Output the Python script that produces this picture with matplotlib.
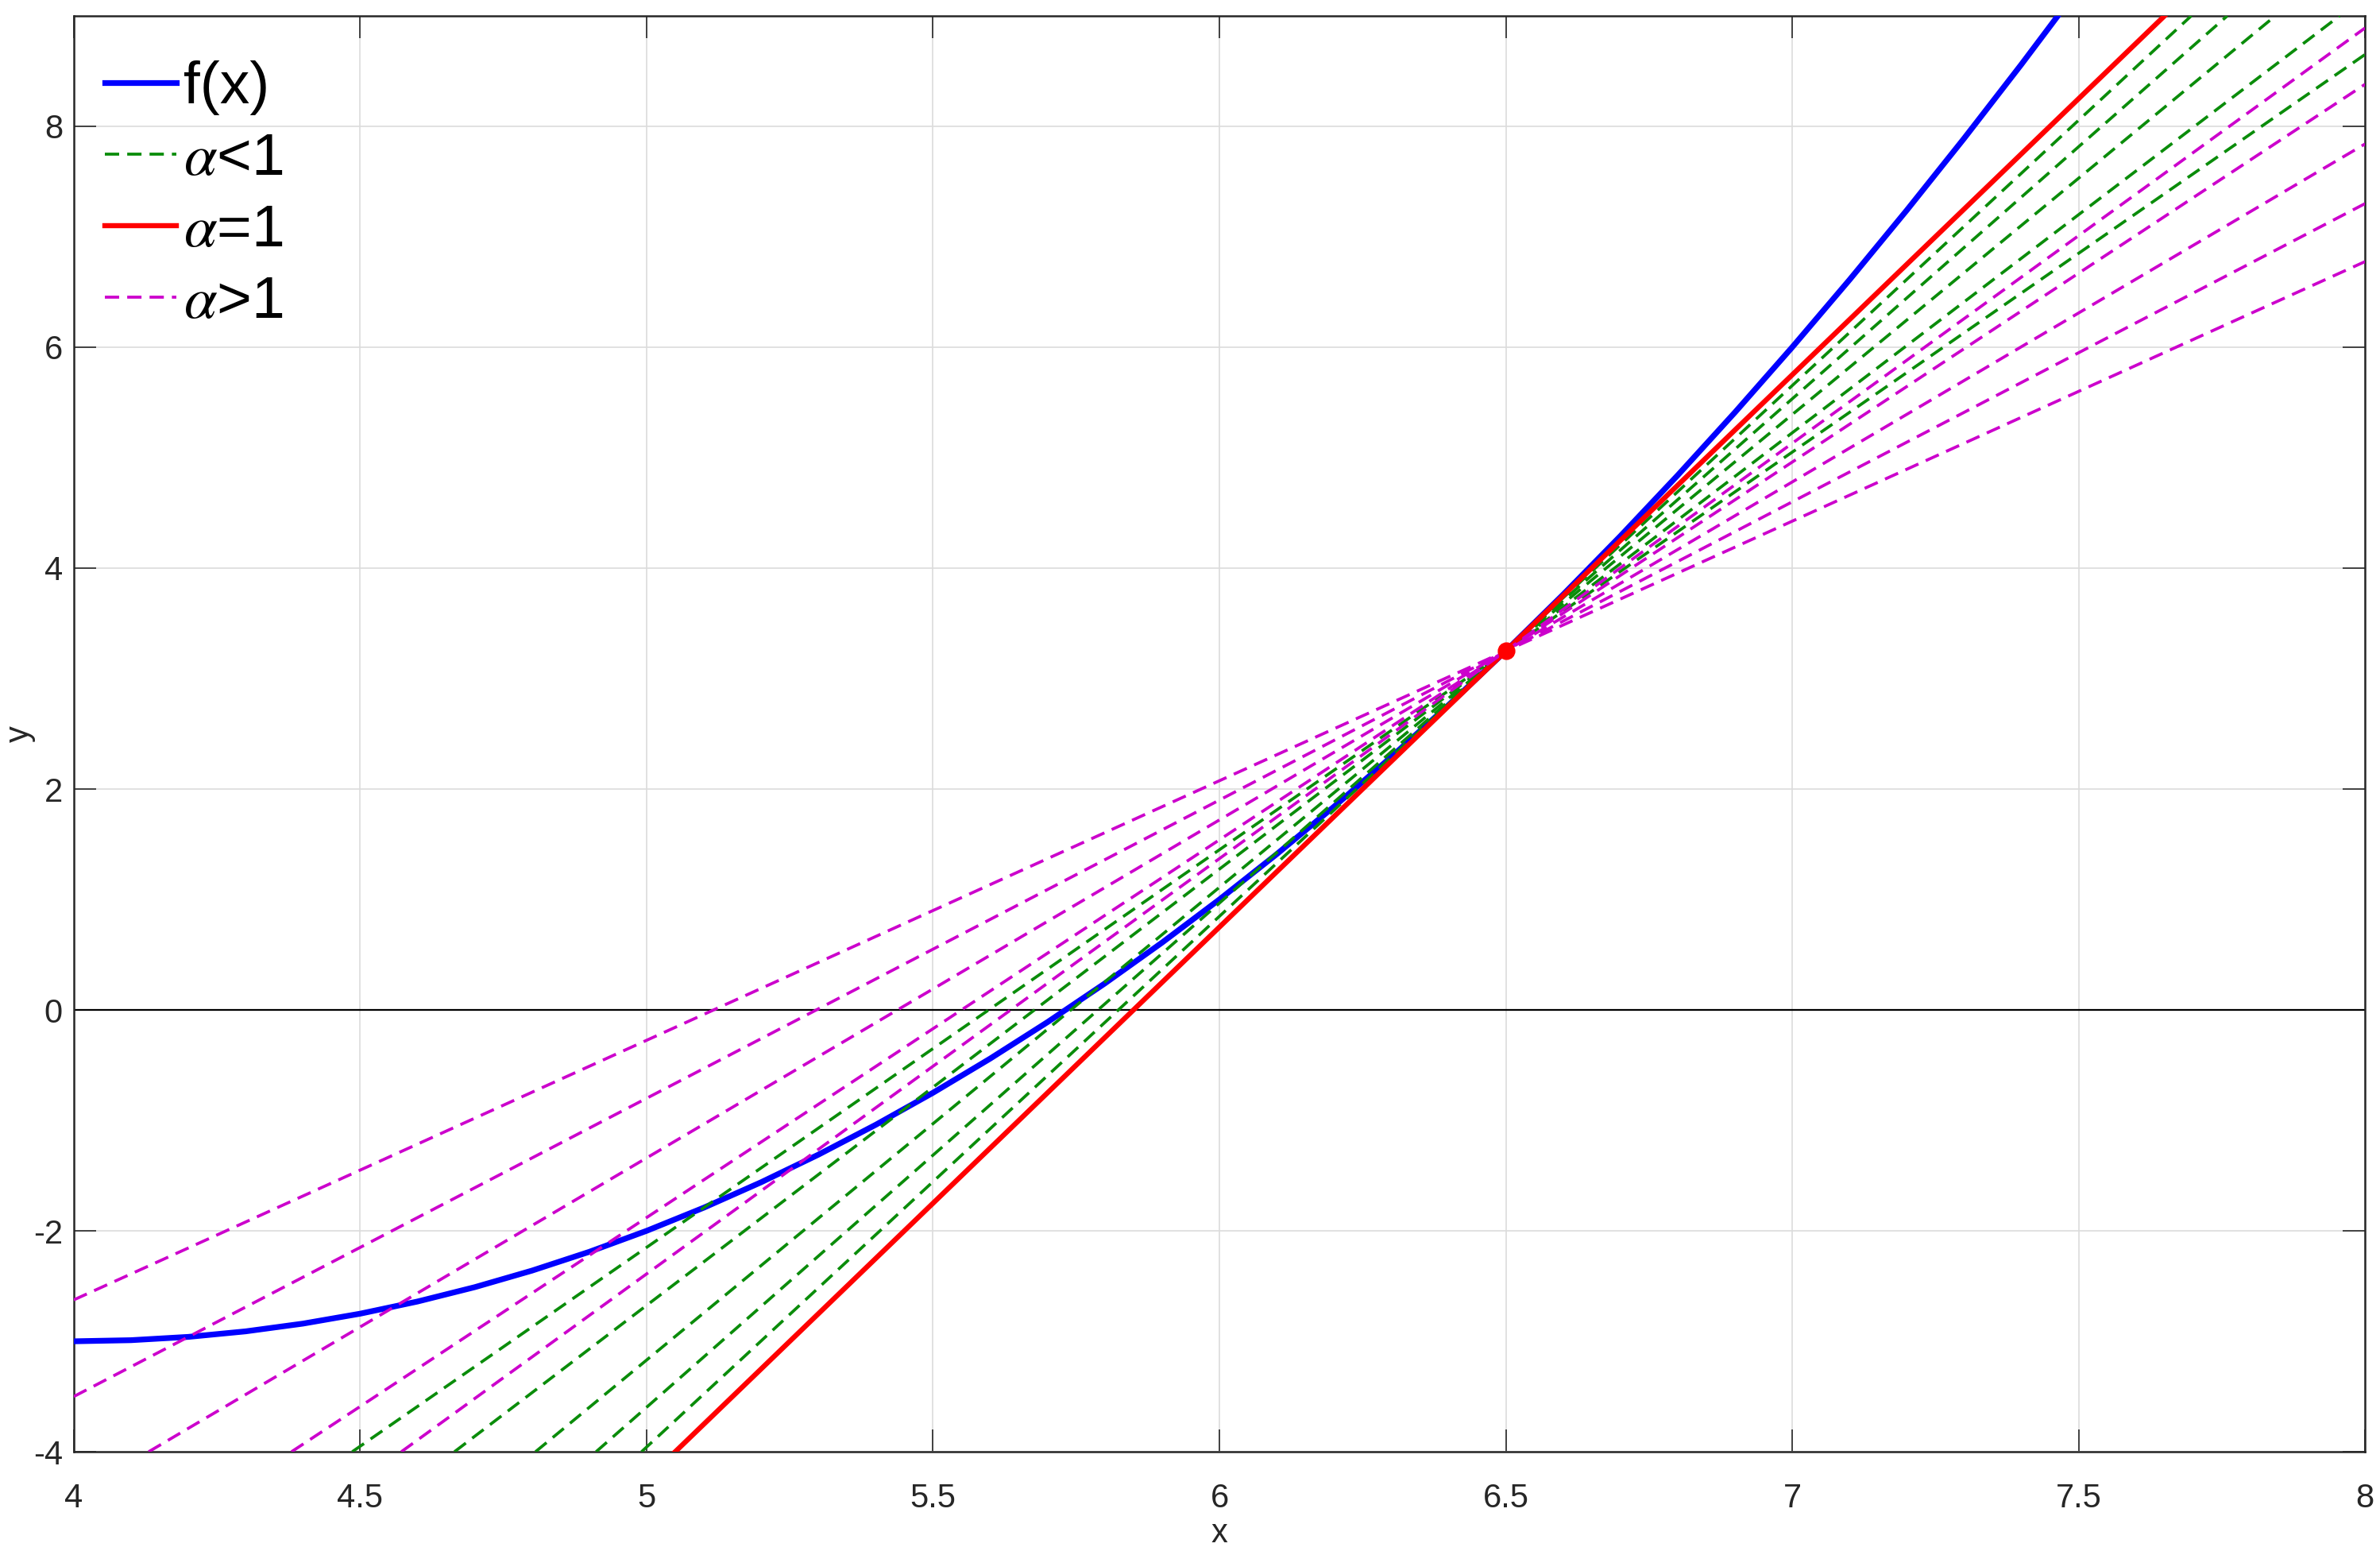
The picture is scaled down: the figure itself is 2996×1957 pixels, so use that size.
import numpy as np
import matplotlib.pyplot as plt

# f(x)
x_curve = [4.0, 4.1, 4.2, 4.3, 4.4, 4.5, 4.6, 4.7, 4.8, 4.9, 5.0, 5.1, 5.2, 5.3,
           5.4, 5.5, 5.6, 5.7, 5.8, 5.9, 6.0, 6.1, 6.2, 6.3, 6.4, 6.5, 6.6, 6.7,
           6.8, 6.9, 7.0, 7.1, 7.2, 7.3, 7.4, 7.5]
y_curve = [-3.0, -2.99, -2.96, -2.91, -2.84, -2.75, -2.64, -2.51, -2.36, -2.19,
           -2.0, -1.79, -1.56, -1.31, -1.04, -0.75, -0.44, -0.11, 0.24, 0.61,
           1.0, 1.41, 1.84, 2.29, 2.76, 3.25, 3.76, 4.29, 4.84, 5.41, 6.0, 6.61,
           7.24, 7.89, 8.56, 9.25]

# point where all lines meet
x0, y0 = 6.5, 3.25

# slopes of the lines through (x0, y0)
slopes_lt1 = [3.60, 3.95, 4.28, 4.565, 4.805]   # alpha < 1
slope_eq1 = 5.0                                 # alpha = 1
slopes_gt1 = [2.35, 2.70, 3.06, 3.42, 3.76]     # alpha > 1

plt.rcParams['font.family'] = ['Liberation Sans', 'DejaVu Sans']
plt.rcParams['mathtext.fontset'] = 'stix'
plt.rcParams['axes.unicode_minus'] = False

fig = plt.figure(figsize=(14.98, 9.785), dpi=200)
ax = fig.add_axes([0.031, 0.0664, 0.9627, 0.9234])

green = '#0a8c0a'
magenta = '#cc00cc'
dash = (4.8, 2.7)

ax.axhline(0, color='black', lw=0.8, zorder=1)

ax.plot(x_curve, y_curve, color='#0000ff', lw=2.6, label='f(x)', zorder=3)
for i, s in enumerate(slopes_lt1):
    ax.axline((x0, y0), slope=s, color=green, lw=1.35, dashes=dash,
              label=r'$\alpha$<1' if i == 0 else None, zorder=3)
ax.axline((x0, y0), slope=slope_eq1, color='#ff0000', lw=2.3,
          label=r'$\alpha$=1', zorder=4)
for i, s in enumerate(slopes_gt1):
    ax.axline((x0, y0), slope=s, color=magenta, lw=1.35, dashes=dash,
              label=r'$\alpha$>1' if i == 0 else None, zorder=4)
ax.plot([x0], [y0], 'o', color='#ff0000', ms=7, zorder=5)

ax.set_xlim(4, 8)
ax.set_ylim(-4, 9)
ax.set_xticks([4, 4.5, 5, 5.5, 6, 6.5, 7, 7.5, 8])
ax.set_xticklabels(['4', '4.5', '5', '5.5', '6', '6.5', '7', '7.5', '8'])
ax.set_yticks([-4, -2, 0, 2, 4, 6, 8])
ax.grid(True, color='#dcdcdc', lw=0.6)
ax.set_axisbelow(True)
ax.tick_params(direction='in', length=10, width=0.6, colors='#262626',
               labelsize=15, top=True, right=True)
ax.tick_params(axis='x', pad=14)
ax.tick_params(axis='y', pad=5)
for sp in ax.spines.values():
    sp.set_color('#262626')
    sp.set_linewidth(0.9)

ax.set_xlabel('x', fontsize=15, color='#262626', va='center')
ax.set_ylabel('y', fontsize=15, color='#262626', va='center')
ax.xaxis.set_label_coords(0.5, -0.057)
ax.yaxis.set_label_coords(-0.0236, 0.5)

ax.legend(loc='upper left', frameon=False, fontsize=27, handlelength=1.2,
          handletextpad=0.12, labelspacing=0.28, borderaxespad=0.2,
          bbox_to_anchor=(-0.002, 0.994))

fig.savefig('out.png', dpi=200)
